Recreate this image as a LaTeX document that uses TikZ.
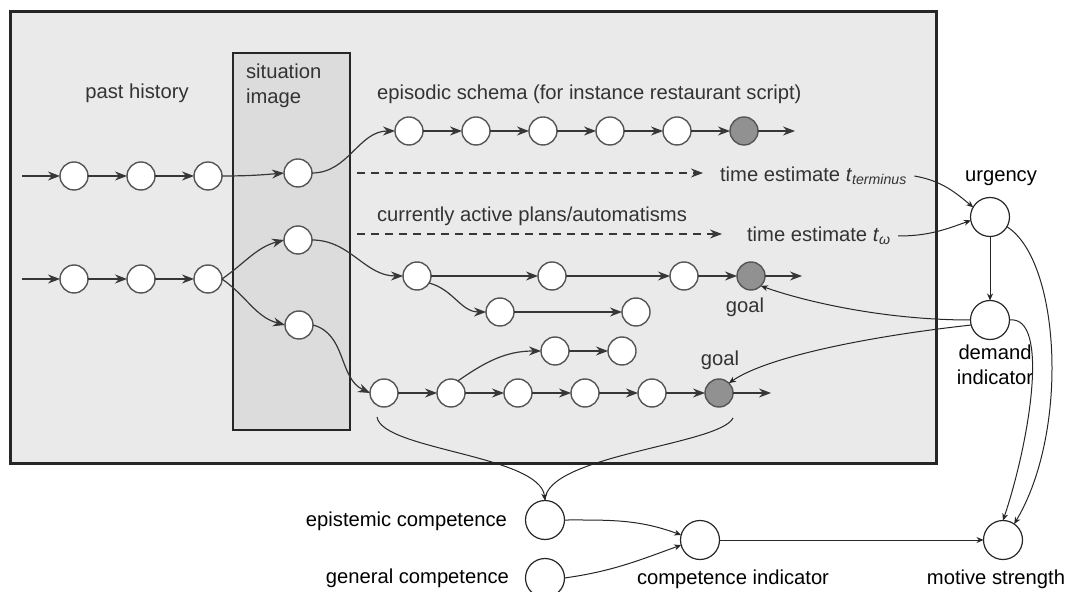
\documentclass[tikz,border=0pt]{standalone}
\usepackage{fontspec}
\setmainfont{Liberation Sans}
\usepackage{tikz}
\usetikzlibrary{arrows.meta,positioning}
\definecolor{linegray}{RGB}{55,55,55}
\definecolor{boxgray}{RGB}{234,234,234}
\definecolor{imagegray}{RGB}{220,220,220}
\definecolor{goalgray}{RGB}{145,145,145}

\begin{document}
\begin{tikzpicture}[
  x=0.5pt, y=-0.5pt,
  node distance=19.5pt,
  font=\fontsize{10.1}{12.5}\selectfont,
  ev/.style={circle, draw=linegray!85, fill=white, line width=0.7pt,
    minimum size=14pt, inner sep=0pt, outer sep=0pt},
  goalev/.style={ev, fill=goalgray},
  ind/.style={circle, draw=black!85, fill=white, line width=0.6pt,
    minimum size=19.5pt, inner sep=0pt, outer sep=0pt},
  lbl/.style={text=black!80},
  arr/.style={-{Stealth[length=6pt,width=4.5pt]}, draw=linegray, line width=0.6pt},
  darr/.style={arr, dash pattern=on 4pt off 3pt},
  sarr/.style={-{Stealth[length=3.5pt,width=3pt]}, draw=black!85, line width=0.5pt}
]
\useasboundingbox (0,0) rectangle (1069,592);

% frames
\draw[line width=1.5pt, draw=black!85, fill=boxgray] (10,12) rectangle (936,463);
\draw[line width=1pt, draw=black!85, fill=imagegray] (233,53) rectangle (350,430);

% labels inside
\node[lbl] (past) at (137,93) {past history};
\node[lbl, anchor=west, align=left] (sit) at (239,86) {situation\\image};
\node[lbl, anchor=west] (epis) at (370,94) {episodic schema (for instance restaurant script)};
\node[lbl, anchor=west] (plans) at (370,216) {currently active plans/automatisms};
\node[lbl, anchor=west] (tterm) at (713,176) {time estimate \textit{t}\textsubscript{\textit{terminus}}};
\node[lbl, anchor=west] (tomega) at (740,236) {time estimate \textit{t}\textsubscript{\textit{ω}}};
\node[lbl] (goala) at (745,307) {goal};
\node[lbl] (goald) at (720,360) {goal};

% past history
\coordinate (pin) at (22,176);
\node[ev] (p1) at (74,176) {};
\node[ev, right=of p1] (p2) {};
\node[ev, right=of p2] (p3) {};
\coordinate (qin) at (22,279);
\node[ev] (q1) at (74,279) {};
\node[ev, right=of q1] (q2) {};
\node[ev, right=of q2] (q3) {};

% situation image
\node[ev] (s1) at (298,173) {};
\node[ev] (s2) at (298,240) {};
\node[ev] (s3) at (299,325) {};

% episodic schema
\node[ev] (e1) at (409,131) {};
\node[ev, right=of e1] (e2) {};
\node[ev, right=of e2] (e3) {};
\node[ev, right=of e3] (e4) {};
\node[ev, right=of e4] (e5) {};
\node[goalev, right=of e5] (e6) {};
\coordinate (eend) at (795,131);

% plans
\node[ev] (a1) at (417,276) {};
\node[ev] (a2) at (552,276) {};
\node[ev] (a3) at (684,276) {};
\node[goalev, right=of a3] (a4) {};
\coordinate (aend) at (802,276);
\node[ev] (b1) at (500,312) {};
\node[ev] (b2) at (636,312) {};
\node[ev] (c1) at (555,351) {};
\node[ev, right=of c1] (c2) {};
\node[ev] (d1) at (384,393) {};
\node[ev, right=of d1] (d2) {};
\node[ev, right=of d2] (d3) {};
\node[ev, right=of d3] (d4) {};
\node[ev, right=of d4] (d5) {};
\node[goalev, right=of d5] (d6) {};
\coordinate (dend) at (771,393);

% indicators
\node[ind] (urg) at (990,217) {};
\node[ind] (dem) at (990,320) {};
\node[ind] (mot) at (1003,540) {};
\node[ind] (comp) at (700,540) {};
\node[ind] (epi) at (545,520) {};
\node[ind] (gen) at (545,578) {};
\node (urgt) at (1001,178) {urgency};
\node[align=center] (demt) at (995,365) {demand\\indicator};
\node[anchor=east] (epit) at (514,521) {epistemic competence};
\node[anchor=east] (gent) at (516,578) {general competence};
\node (compt) at (733,579) {competence indicator};
\node (mott) at (996,579) {motive strength};

% chains
\draw[arr] (pin) -- (p1);
\draw[arr] (p1) -- (p2);
\draw[arr] (p2) -- (p3);
\draw[arr] (p3.east) to[out=0,in=185] (s1.west);
\draw[arr] (qin) -- (q1);
\draw[arr] (q1) -- (q2);
\draw[arr] (q2) -- (q3);
\draw[arr] (q3.east) to[out=35,in=195] (s2.west);
\draw[arr] (q3.east) to[out=-35,in=165] (s3.west);
\draw[arr] (s1.east) to[out=0,in=180] (e1.west);
\draw[arr] (s2.east) to[out=0,in=180] (a1.west);
\draw[arr] (s3.east) to[out=-15,in=155] (d1.west);
\draw[arr] (e1) -- (e2);
\draw[arr] (e2) -- (e3);
\draw[arr] (e3) -- (e4);
\draw[arr] (e4) -- (e5);
\draw[arr] (e5) -- (e6);
\draw[arr] (e6) -- (eend);
\draw[arr] (a1) -- (a2);
\draw[arr] (a2) -- (a3);
\draw[arr] (a3) -- (a4);
\draw[arr] (a4) -- (aend);
\draw[arr] (a1.-30) to[out=-15,in=180] (b1.west);
\draw[arr] (b1) -- (b2);
\draw[arr] (d1) -- (d2);
\draw[arr] (d2) -- (d3);
\draw[arr] (d3) -- (d4);
\draw[arr] (d4) -- (d5);
\draw[arr] (d5) -- (d6);
\draw[arr] (d6) -- (dend);
\draw[arr] (d2.60) to[out=35,in=180] (c1.west);
\draw[arr] (c1) -- (c2);

% time estimates
\coordinate (da) at (357,173);
\coordinate (db) at (357,234);
\draw[darr, shorten >=5pt] (da) -- (da -| tterm.west);
\draw[darr, shorten >=9pt] (db) -- (db -| tomega.west);
\draw[sarr] (tterm.east) to[out=-10,in=140] (urg.150);
\draw[sarr] (tomega.east) to[out=0,in=200] (urg.190);

% indicator links
\draw[sarr] (urg) -- (dem);
\draw[sarr] (urg.-30) .. controls (1060,260) and (1070,430) .. (mot.55);
\draw[sarr] (dem.east) .. controls (1050,315) and (1030,440) .. (mot.north);
\draw[sarr] (dem.west) .. controls (880,320) and (800,300) .. (a4.-45);
\draw[sarr] (dem.195) .. controls (880,335) and (770,355) .. (d6.45);
\coordinate (bl) at (377,417);
\coordinate (br) at (733,418);
\draw[draw=black!85, line width=0.5pt] (br) .. controls (720,445) and (545,455) .. (epi.north);
\draw[sarr] (bl) .. controls (382,450) and (540,455) .. (epi.north);
\draw[sarr] (epi.east) to[out=0,in=160] (comp.165);
\draw[sarr] (gen.east) to[out=8,in=200] (comp.195);
\draw[sarr] (comp) -- (mot);
\end{tikzpicture}
\end{document}
